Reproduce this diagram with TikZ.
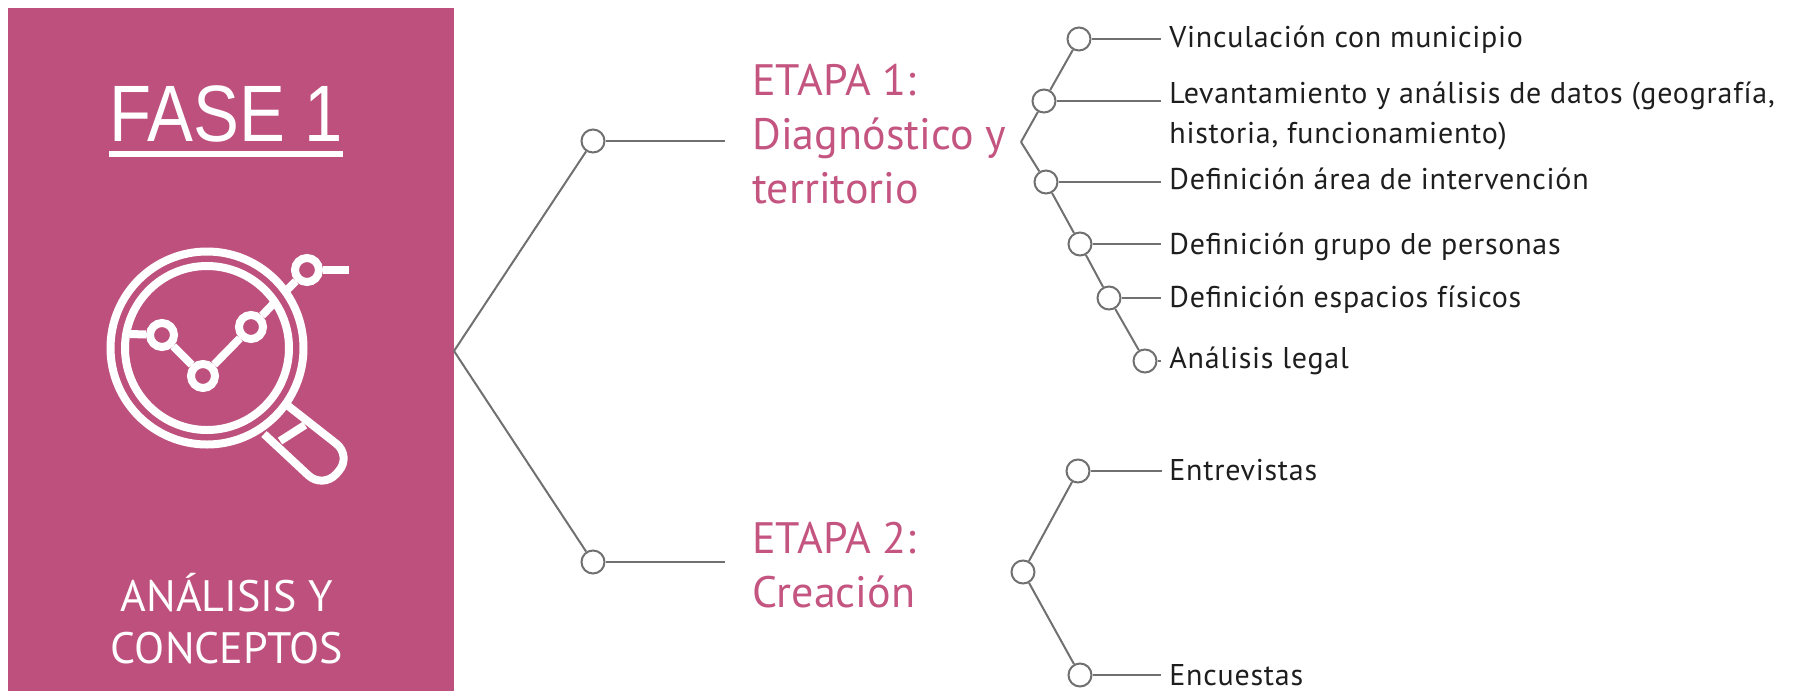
\documentclass[tikz,border=0pt]{standalone}
\usepackage{fontspec}
\setmainfont{PT Sans}
\newfontfamily\titlefont[FakeStretch=.86]{Liberation Sans}
\newfontfamily\itemfont[LetterSpace=2.5]{PT Sans}
\definecolor{fasepink}{RGB}{190,80,125}
\definecolor{etapapink}{RGB}{196,84,128}
\definecolor{linegray}{RGB}{112,112,112}
\definecolor{itemblack}{RGB}{30,30,30}
\tikzset{
  dotnode/.style={circle,draw=linegray,fill=white,line width=1pt,minimum size=11.5pt,inner sep=0pt},
  branch/.style={draw=linegray,line width=1pt},
  stub/.style={draw=linegray,line width=1.3pt},
  etapatext/.style={anchor=base west,inner sep=0pt,align=left,text=etapapink,font=\fontsize{22}{27}\selectfont},
  itemtext/.style={anchor=base west,inner sep=0pt,align=left,text=itemblack,font=\itemfont\fontsize{15}{20}\selectfont},
  icondot/.style={circle,draw=white,fill=fasepink,line width=4pt,minimum size=12pt,inner sep=0pt},
  iconline/.style={draw=white,line width=4pt},
  fasetext/.style={inner sep=0pt,align=center,text=white,font=\fontsize{22}{26}\selectfont}
}
\begin{document}
\begin{tikzpicture}[x=.5pt,y=-.5pt]
\useasboundingbox (0,0) rectangle (1793,691);
% pink panel
\fill[fasepink] (8,8) rectangle (454,691);
\node[anchor=base,inner sep=0pt,text=white,font=\titlefont\fontsize{40}{40}\selectfont] (fase) at (226,141) {FASE 1};
\draw[white,line width=3pt] ([yshift=-6.5pt]fase.base west) -- ([yshift=-6.5pt]fase.base east);
\node[fasetext,anchor=base] (analisis) at (227,663) {ANÁLISIS Y\\CONCEPTOS};
% magnifier
\draw[iconline] (207,348) circle[radius=96.5];
\draw[iconline] (207,348) circle[radius=82];
\draw[iconline,rounded corners=10pt] (264,434) -- (323,489) -- (352,456) -- (287,405);
\draw[iconline] (280,441) -- (305,425);
\coordinate (glassleft) at (130,334);
\coordinate (glassin) at (275,302);
\coordinate (glassout) at (285,292);
\coordinate (iconend) at (349,270);
\node[icondot] (ic1) at (162,335) {};
\node[icondot] (ic2) at (203,376) {};
\node[icondot] (ic3) at (251,327) {};
\node[icondot] (ic4) at (307,270) {};
\draw[iconline] (glassleft) -- (ic1);
\draw[iconline] (ic1) -- (ic2);
\draw[iconline] (ic2) -- (ic3);
\draw[iconline] (ic3) -- (glassin);
\draw[iconline] (glassout) -- (ic4);
\draw[iconline] (ic4) -- (iconend);
% etapas
\coordinate (root) at (454,351);
\node[dotnode] (e1) at (593,141) {};
\node[dotnode] (e2) at (593,562) {};
\coordinate (e1end) at (725,141);
\coordinate (e2end) at (725,562);
\draw[branch] (root) -- (e1);
\draw[branch] (root) -- (e2);
\draw[stub] (e1) -- (e1end);
\draw[stub] (e2) -- (e2end);
\node[etapatext] (etapa1) at (752,203) {ETAPA 1:\\Diagnóstico y\\territorio};
\node[etapatext] (etapa2) at (752,607) {ETAPA 2:\\Creación};
% items etapa 1
\coordinate (v1) at (1021,142);
\node[dotnode] (a1) at (1079,39) {};
\node[dotnode] (a2) at (1044,101) {};
\node[dotnode] (a3) at (1046,182) {};
\node[dotnode] (a4) at (1080,244) {};
\node[dotnode] (a5) at (1109,298) {};
\node[dotnode] (a6) at (1145,361) {};
\draw[branch] (v1) -- (a2);
\draw[branch] (a2) -- (a1);
\draw[branch] (v1) -- (a3);
\draw[branch] (a3) -- (a4);
\draw[branch] (a4) -- (a5);
\draw[branch] (a5) -- (a6);
\foreach \n/\y in {a1/39,a2/101,a3/182,a4/244,a5/298,a6/361}{
  \coordinate (\n end) at (1161,\y);
  \draw[stub] (\n) -- (\n end);
}
\node[itemtext] (t1) at (1169,47) {Vinculación con municipio};
\node[itemtext] (t2) at (1169,143) {Levantamiento y análisis de datos (geografía,\\historia, funcionamiento)};
\node[itemtext] (t3) at (1169,189) {Definición área de intervención};
\node[itemtext] (t4) at (1169,254) {Definición grupo de personas};
\node[itemtext] (t5) at (1169,307) {Definición espacios físicos};
\node[itemtext] (t6) at (1169,368) {Análisis legal};
% items etapa 2
\node[dotnode] (b0) at (1023,572) {};
\node[dotnode] (b1) at (1078,471) {};
\node[dotnode] (b2) at (1080,675) {};
\coordinate (b1end) at (1162,471);
\coordinate (b2end) at (1161,675);
\draw[branch] (b0) -- (b1);
\draw[branch] (b0) -- (b2);
\draw[stub] (b1) -- (b1end);
\draw[stub] (b2) -- (b2end);
\node[itemtext] (t7) at (1169,480) {Entrevistas};
\node[itemtext] (t8) at (1169,685) {Encuestas};
\end{tikzpicture}
\end{document}
